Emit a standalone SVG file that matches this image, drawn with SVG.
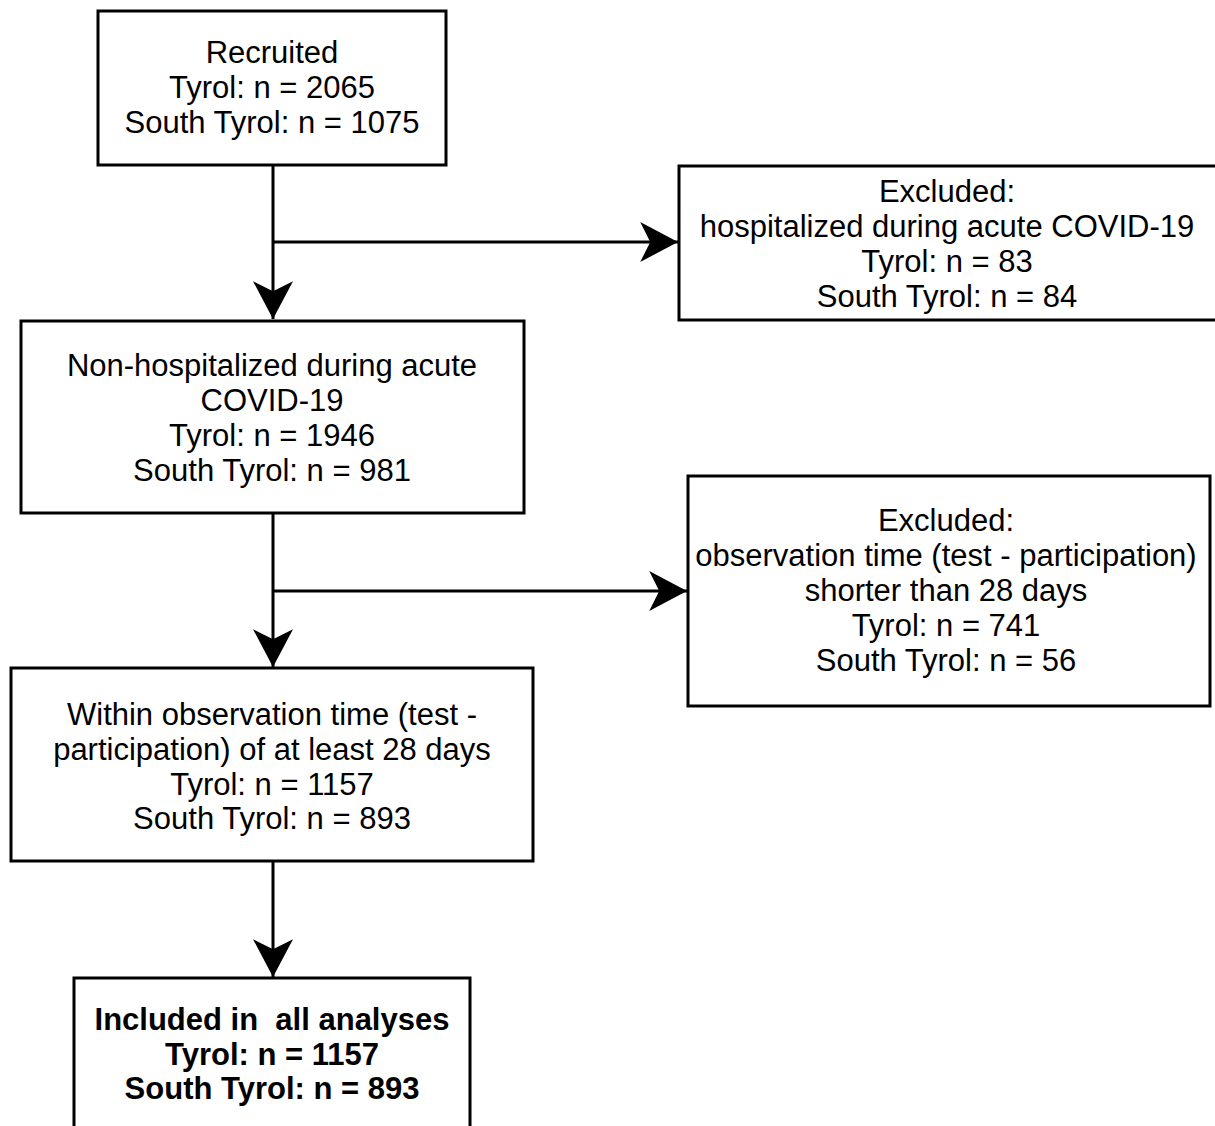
<svg xmlns="http://www.w3.org/2000/svg" width="1215" height="1126" viewBox="0 0 1215 1126">
<style>
.box{fill:#fff;stroke:#000;stroke-width:3}
.t{font-family:"Liberation Sans",Arial,sans-serif;font-size:31px;fill:#000;text-anchor:middle;white-space:pre}
.b{font-weight:bold}
.c{fill:none;stroke:#000;stroke-width:3}
</style>
<defs>
<marker id="ah" markerUnits="userSpaceOnUse" markerWidth="40" markerHeight="40" viewBox="0 0 34 36" refX="34" refY="18" orient="auto">
<path d="M0,0 L34,18 L0,36 L9,18 Z" fill="#000"/>
</marker>
</defs>
<rect width="1215" height="1126" fill="#fff"/>
<g id="connectors">
<path class="c" d="M273,165 V319" marker-end="url(#ah)"/>
<path class="c" d="M273,242 H678" marker-end="url(#ah)"/>
<path class="c" d="M273,513 V667" marker-end="url(#ah)"/>
<path class="c" d="M273,591 H687" marker-end="url(#ah)"/>
<path class="c" d="M273,861 V977" marker-end="url(#ah)"/>
</g>
<g id="recruited">
<rect class="box" x="98" y="11" width="348" height="154"/>
<text class="t" x="272" y="63">Recruited</text>
<text class="t" x="272" y="98">Tyrol: n = 2065</text>
<text class="t" x="272" y="133">South Tyrol: n = 1075</text>
</g>
<g id="excluded1">
<rect class="box" x="679" y="166" width="545" height="154"/>
<text class="t" x="947" y="202">Excluded:</text>
<text class="t" x="947" y="237">hospitalized during acute COVID-19</text>
<text class="t" x="947" y="272">Tyrol: n = 83</text>
<text class="t" x="947" y="307">South Tyrol: n = 84</text>
</g>
<g id="nonhosp">
<rect class="box" x="21" y="321" width="503" height="192"/>
<text class="t" x="272" y="376">Non-hospitalized during acute</text>
<text class="t" x="272" y="411">COVID-19</text>
<text class="t" x="272" y="446">Tyrol: n = 1946</text>
<text class="t" x="272" y="481">South Tyrol: n = 981</text>
</g>
<g id="excluded2">
<rect class="box" x="688" y="476" width="522" height="230"/>
<text class="t" x="946" y="531">Excluded:</text>
<text class="t" x="946" y="566">observation time (test - participation)</text>
<text class="t" x="946" y="601">shorter than 28 days</text>
<text class="t" x="946" y="636">Tyrol: n = 741</text>
<text class="t" x="946" y="671">South Tyrol: n = 56</text>
</g>
<g id="within">
<rect class="box" x="11" y="668" width="522" height="193"/>
<text class="t" x="272" y="725">Within observation time (test -</text>
<text class="t" x="272" y="760">participation) of at least 28 days</text>
<text class="t" x="272" y="795">Tyrol: n = 1157</text>
<text class="t" x="272" y="829">South Tyrol: n = 893</text>
</g>
<g id="included">
<rect class="box" x="74" y="978" width="396" height="160"/>
<text class="t b" x="272" y="1030" xml:space="preserve">Included in  all analyses</text>
<text class="t b" x="272" y="1065">Tyrol: n = 1157</text>
<text class="t b" x="272" y="1099">South Tyrol: n = 893</text>
</g>
</svg>
